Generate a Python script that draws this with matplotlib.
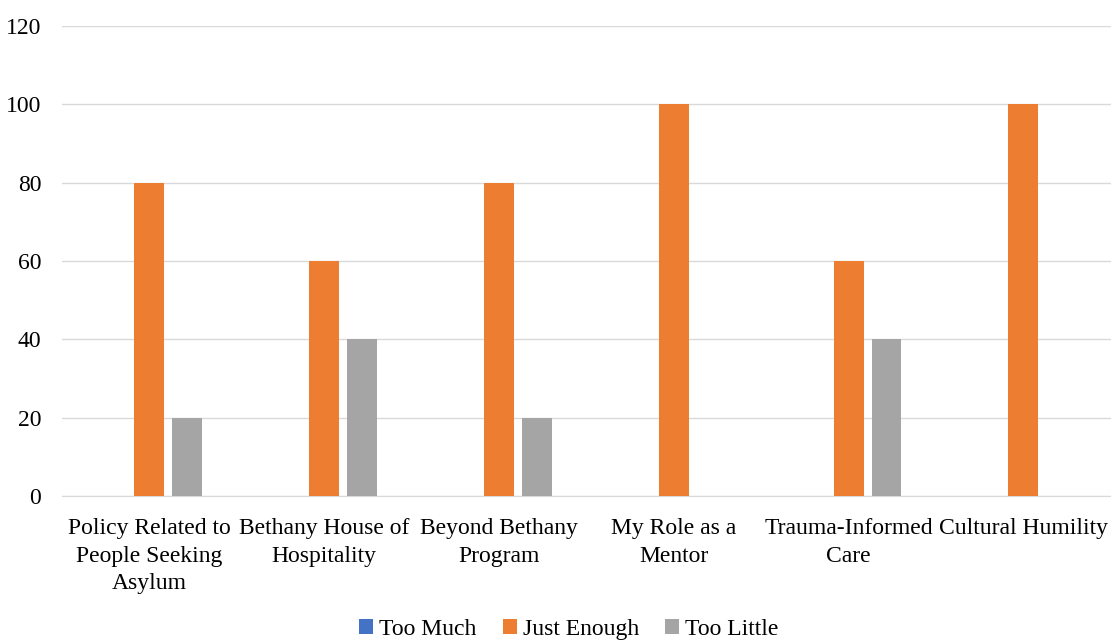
import matplotlib.pyplot as plt
import numpy as np

plt.rcParams['font.family'] = ['Liberation Serif', 'DejaVu Serif']

# Kategoriler ve seriler
categories = ["Policy Related to\nPeople Seeking\nAsylum",
              "Bethany House of\nHospitality",
              "Beyond Bethany\nProgram",
              "My Role as a\nMentor",
              "Trauma-Informed\nCare",
              "Cultural Humility"]
too_much = [0, 0, 0, 0, 0, 0]
just_enough = [80, 60, 80, 100, 60, 100]
too_little = [20, 40, 20, 0, 40, 0]

series_names = ["Too Much", "Just Enough", "Too Little"]
colors = ["#4472C4", "#ED7D31", "#A5A5A5"]

fig = plt.figure(figsize=(11.11, 6.42), dpi=100)
ax = fig.add_axes([0.0558, 0.2274, 0.944, 0.7321])

x = np.arange(len(categories))
w = 0.171
step = 0.217
for i, (vals, name, c) in enumerate(zip([too_much, just_enough, too_little], series_names, colors)):
    ax.bar(x + (i - 1) * step, vals, width=w, color=c, label=name, zorder=3)

ax.set_xlim(-0.5, len(categories) - 0.5)
ax.set_ylim(0, 120)
ax.set_yticks(range(0, 121, 20))
ax.yaxis.grid(True, color="#D9D9D9", linewidth=1, zorder=0)
for s in ["top", "right", "left"]:
    ax.spines[s].set_visible(False)
ax.spines["bottom"].set_color("#D9D9D9")
ax.tick_params(axis="both", length=0, labelsize=17)
ax.tick_params(axis="y", pad=15)
ax.tick_params(axis="x", pad=16)
ax.set_xticks(x)
ax.set_xticklabels(categories, linespacing=1.4)

fig.legend(loc="lower center", bbox_to_anchor=(0.512, -0.03), ncol=3, frameon=False,
           fontsize=17, handlelength=0.6, handleheight=0.6, handletextpad=0.25,
           columnspacing=1.1)

fig.savefig("out.png", dpi=100)
